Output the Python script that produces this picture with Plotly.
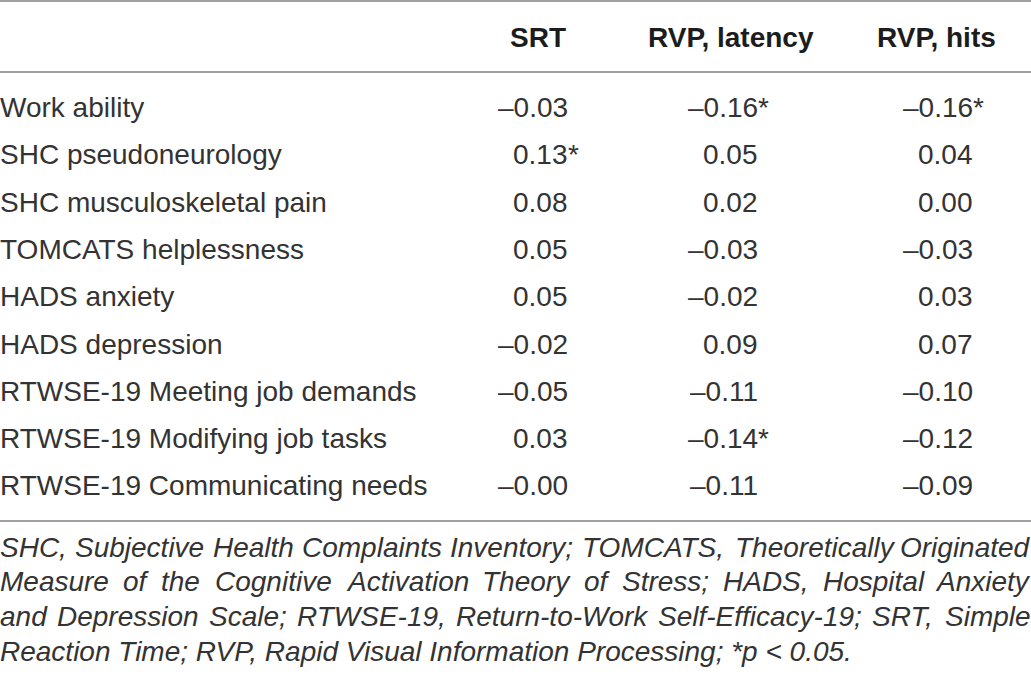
import plotly.graph_objects as go

# table contents
measures = [
    "Work ability",
    "SHC pseudoneurology",
    "SHC musculoskeletal pain",
    "TOMCATS helplessness",
    "HADS anxiety",
    "HADS depression",
    "RTWSE-19 Meeting job demands",
    "RTWSE-19 Modifying job tasks",
    "RTWSE-19 Communicating needs",
]
columns = ["SRT", "RVP, latency", "RVP, hits"]

srt = [-0.03, 0.13, 0.08, 0.05, 0.05, -0.02, -0.05, 0.03, -0.00]
rvp_latency = [-0.16, 0.05, 0.02, -0.03, -0.02, 0.09, -0.11, -0.14, -0.11]
rvp_hits = [-0.16, 0.04, 0.00, -0.03, 0.03, 0.07, -0.10, -0.12, -0.09]

srt_sig = [False, True, False, False, False, False, False, False, False]
rvp_latency_sig = [True, False, False, False, False, False, False, True, False]
rvp_hits_sig = [True, False, False, False, False, False, False, False, False]

footnote = [
    "SHC, Subjective Health Complaints Inventory; TOMCATS, Theoretically Originated",
    "Measure of the Cognitive Activation Theory of Stress; HADS, Hospital Anxiety",
    "and Depression Scale; RTWSE-19, Return-to-Work Self-Efficacy-19; SRT, Simple",
    "Reaction Time; RVP, Rapid Visual Information Processing; *p &lt; 0.05.",
]

W, H = 1031, 677
FONT = "Liberation Sans"
INK = "#333333"
RULE = "#a0a0a0"
SIZE = 28

header_y = 37
row_y0, row_step = 107.5, 47.3
header_x = [538, 731, 936]
num_right = [568, 758, 973]
foot_y0, foot_step = 547, 34.8

# Arial / Liberation Sans advance widths (1/1000 em), used to justify the footnote
ADV = dict(zip("abcdefghijklmnopqrstuvwxyz",
               [556, 556, 500, 556, 556, 278, 556, 556, 222, 222, 500, 222, 833,
                556, 556, 556, 556, 333, 500, 278, 556, 500, 722, 500, 500, 500]))
ADV.update(zip("ABCDEFGHIJKLMNOPQRSTUVWXYZ",
               [667, 667, 722, 722, 667, 611, 778, 722, 278, 500, 667, 556, 833,
                722, 778, 667, 778, 722, 667, 611, 722, 667, 944, 667, 667, 611]))
ADV.update({c: 556 for c in "0123456789"})
ADV.update({",": 278, ".": 278, ";": 278, "-": 333, "*": 389, "<": 584, " ": 278})


def text_width(s, size):
    return sum(ADV.get(c, 556) for c in s) * size / 1000.0


fig = go.Figure()
fig.add_trace(go.Scatter(x=[0, W], y=[0, H], mode="markers",
                         marker=dict(opacity=0), hoverinfo="skip", showlegend=False))

anns = []
for name, x in zip(columns, header_x):
    anns.append(dict(x=x, y=header_y, text="<b>%s</b>" % name, xanchor="center",
                     yanchor="middle", font=dict(size=SIZE, color="#1c1c1c")))

for i, name in enumerate(measures):
    y = row_y0 + i * row_step
    anns.append(dict(x=0, y=y, text=name, xanchor="left", yanchor="middle",
                     font=dict(size=SIZE, color=INK)))
    for vals, sig, xr in zip([srt, rvp_latency, rvp_hits],
                             [srt_sig, rvp_latency_sig, rvp_hits_sig], num_right):
        txt = ("%.2f" % vals[i]).replace("-", "\u2013")
        anns.append(dict(x=xr, y=y, text=txt, xanchor="right", yanchor="middle",
                         font=dict(size=SIZE, color=INK)))
        if sig[i]:
            anns.append(dict(x=xr, y=y, text="*", xanchor="left", yanchor="middle",
                             font=dict(size=SIZE, color=INK)))

foot_font = dict(size=SIZE, color=INK, style="italic")
for j, line in enumerate(footnote):
    y = foot_y0 + j * foot_step
    if j == len(footnote) - 1:
        anns.append(dict(x=0, y=y, text=line, xanchor="left", yanchor="middle", font=foot_font))
        continue
    # justified line: spread the words across the full width
    words = line.split(" ")
    widths = [text_width(w, SIZE) for w in words]
    gap = (W - sum(widths)) / (len(words) - 1)
    x = 0.0
    for k, (w, ww) in enumerate(zip(words, widths)):
        if k == len(words) - 1:
            anns.append(dict(x=W, y=y, text=w, xanchor="right", yanchor="middle", font=foot_font))
        else:
            anns.append(dict(x=x, y=y, text=w, xanchor="left", yanchor="middle", font=foot_font))
        x += ww + gap

for a in anns:
    a.update(xref="x", yref="y", showarrow=False, borderpad=0, borderwidth=0)

shapes = []
for yy in [1, 72, 521]:
    shapes.append(dict(type="line", xref="x", yref="y", x0=0, x1=W, y0=yy, y1=yy,
                       line=dict(color=RULE, width=2)))

fig.update_layout(
    width=W, height=H,
    margin=dict(l=0, r=0, t=0, b=0),
    paper_bgcolor="white", plot_bgcolor="white",
    font=dict(family=FONT, color=INK),
    xaxis=dict(range=[0, W], visible=False, fixedrange=True),
    yaxis=dict(range=[H, 0], visible=False, fixedrange=True),
    annotations=anns, shapes=shapes,
    showlegend=False,
)

# drop the default 8px page margin so the table sits flush like the original
fig.write_html("out.html", config={"displayModeBar": False},
               post_script="document.body.style.margin='0';")
